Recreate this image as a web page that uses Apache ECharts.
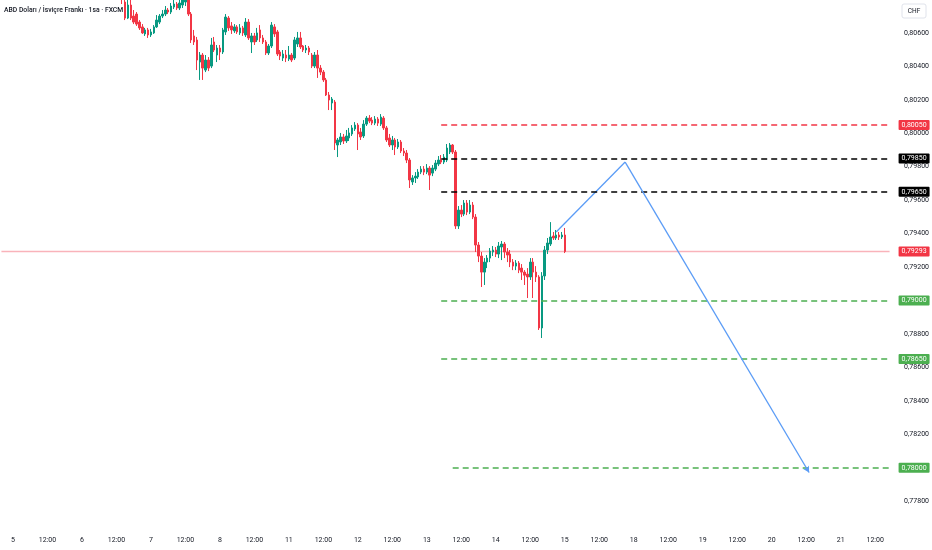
<!DOCTYPE html>
<html><head><meta charset="utf-8">
<script src="https://cdn.jsdelivr.net/npm/echarts@6/dist/echarts.min.js"></script>
<style>html,body{margin:0;padding:0;background:#fff}#c{width:932px;height:550px}</style>
</head><body><div id="c"></div>
<script>
const titleText = 'ABD Doları / İsviçre Frankı · 1sa · FXCM';
const currency = 'CHF';
const days = ['5','6','7','8','11','12','13','14','15','18','19','20','21'];
const preDay = '4';
const preHours = [20,21,22,23];
const lastSlot = '21 17:00';
const firstCandle = '6 14:00';

const open = [
0.80845,0.80785,0.80689,0.80767,0.80701,0.80713,0.80665,0.80636,0.80594,0.80618,
0.80588,0.80600,0.80636,0.80665,0.80701,0.80713,0.80737,0.80725,0.80755,0.80773,
0.80749,0.80767,0.80785,0.80797,0.80713,0.80582,0.80558,0.80426,0.80468,0.80378,
0.80438,0.80402,0.80546,0.80468,0.80510,0.80486,0.80606,0.80689,0.80642,0.80612,
0.80636,0.80600,0.80630,0.80588,0.80665,0.80546,0.80582,0.80558,0.80618,0.80570,
0.80546,0.80480,0.80522,0.80636,0.80606,0.80486,0.80450,0.80468,0.80444,0.80468,
0.80450,0.80534,0.80570,0.80522,0.80498,0.80510,0.80468,0.80402,0.80468,0.80390,
0.80366,0.80319,0.80229,0.80181,0.80187,0.79930,0.79948,0.79978,0.79954,0.79972,
0.79996,0.80026,0.80049,0.80008,0.79984,0.80055,0.80091,0.80079,0.80061,0.80085,
0.80055,0.80091,0.80032,0.79972,0.79930,0.79960,0.79918,0.79948,0.79894,0.79882,
0.79840,0.79709,0.79733,0.79739,0.79768,0.79786,0.79768,0.79792,0.79762,0.79786,
0.79816,0.79840,0.79828,0.79840,0.79888,0.79930,0.79888,0.79446,0.79541,0.79517,
0.79583,0.79529,0.79571,0.79499,0.79332,0.79266,0.79170,0.79230,0.79254,0.79290,
0.79302,0.79278,0.79320,0.79338,0.79290,0.79278,0.79230,0.79206,0.79224,0.79194,
0.79170,0.79158,0.79141,0.79230,0.79170,0.79141,0.78836,0.79147,0.79302,0.79338,
0.79386,0.79374,0.79392,0.79380,0.79392];
const close = [
0.80809,0.80689,0.80767,0.80689,0.80665,0.80653,0.80630,0.80600,0.80618,0.80588,
0.80606,0.80636,0.80677,0.80701,0.80713,0.80737,0.80725,0.80761,0.80773,0.80749,
0.80779,0.80797,0.80809,0.80713,0.80558,0.80546,0.80438,0.80468,0.80390,0.80438,
0.80390,0.80528,0.80498,0.80510,0.80486,0.80618,0.80695,0.80630,0.80618,0.80636,
0.80606,0.80630,0.80600,0.80665,0.80570,0.80582,0.80546,0.80600,0.80570,0.80546,
0.80480,0.80522,0.80647,0.80594,0.80474,0.80462,0.80474,0.80450,0.80468,0.80438,
0.80558,0.80570,0.80516,0.80498,0.80510,0.80486,0.80402,0.80468,0.80390,0.80366,
0.80319,0.80229,0.80199,0.80205,0.79942,0.79960,0.79978,0.79954,0.79984,0.80002,
0.80032,0.80049,0.79996,0.79978,0.80055,0.80091,0.80073,0.80061,0.80085,0.80061,
0.80097,0.80032,0.79960,0.79930,0.79960,0.79918,0.79948,0.79894,0.79882,0.79840,
0.79721,0.79733,0.79744,0.79768,0.79786,0.79768,0.79792,0.79750,0.79792,0.79822,
0.79840,0.79828,0.79858,0.79912,0.79930,0.79888,0.79446,0.79541,0.79517,0.79583,
0.79529,0.79571,0.79499,0.79332,0.79266,0.79170,0.79230,0.79254,0.79296,0.79302,
0.79278,0.79326,0.79338,0.79290,0.79272,0.79230,0.79206,0.79224,0.79182,0.79170,
0.79152,0.79141,0.79230,0.79170,0.79141,0.78836,0.79147,0.79302,0.79344,0.79380,
0.79374,0.79392,0.79380,0.79392,0.79293];
const low = [
0.80773,0.80677,0.80683,0.80677,0.80653,0.80642,0.80618,0.80594,0.80582,0.80570,
0.80576,0.80594,0.80630,0.80653,0.80689,0.80701,0.80713,0.80713,0.80743,0.80737,
0.80737,0.80749,0.80761,0.80701,0.80540,0.80528,0.80378,0.80319,0.80319,0.80366,
0.80372,0.80390,0.80486,0.80426,0.80438,0.80474,0.80588,0.80612,0.80594,0.80600,
0.80594,0.80588,0.80582,0.80576,0.80558,0.80480,0.80528,0.80546,0.80546,0.80534,
0.80468,0.80468,0.80510,0.80576,0.80462,0.80438,0.80432,0.80426,0.80432,0.80426,
0.80438,0.80516,0.80504,0.80486,0.80480,0.80468,0.80390,0.80390,0.80331,0.80348,
0.80307,0.80223,0.80139,0.80139,0.79900,0.79858,0.79930,0.79936,0.79942,0.79954,
0.79984,0.80014,0.79900,0.79960,0.79972,0.80044,0.80061,0.80049,0.80049,0.80044,
0.80044,0.80020,0.79948,0.79918,0.79900,0.79870,0.79906,0.79882,0.79864,0.79822,
0.79673,0.79691,0.79703,0.79727,0.79756,0.79750,0.79756,0.79661,0.79744,0.79774,
0.79804,0.79816,0.79816,0.79828,0.79876,0.79876,0.79428,0.79428,0.79499,0.79505,
0.79511,0.79517,0.79487,0.79290,0.79230,0.79081,0.79093,0.79194,0.79230,0.79266,
0.79260,0.79254,0.79242,0.79254,0.79230,0.79200,0.79182,0.79182,0.79164,0.79123,
0.79093,0.79015,0.79123,0.79015,0.79111,0.78824,0.78776,0.79123,0.79278,0.79326,
0.79362,0.79362,0.79362,0.79368,0.79284];
const high = [
0.80857,0.80809,0.80797,0.80797,0.80737,0.80725,0.80677,0.80653,0.80630,0.80630,
0.80624,0.80647,0.80707,0.80713,0.80737,0.80761,0.80749,0.80779,0.80797,0.80785,
0.80803,0.80821,0.80833,0.80815,0.80725,0.80618,0.80576,0.80486,0.80480,0.80468,
0.80456,0.80570,0.80576,0.80528,0.80528,0.80630,0.80713,0.80701,0.80665,0.80653,
0.80647,0.80653,0.80642,0.80689,0.80683,0.80600,0.80600,0.80630,0.80647,0.80588,
0.80558,0.80534,0.80665,0.80653,0.80618,0.80498,0.80498,0.80498,0.80522,0.80480,
0.80576,0.80606,0.80606,0.80528,0.80528,0.80522,0.80480,0.80486,0.80498,0.80408,
0.80378,0.80331,0.80247,0.80217,0.80199,0.79972,0.80002,0.79996,0.80020,0.80032,
0.80049,0.80067,0.80061,0.80032,0.80079,0.80103,0.80109,0.80097,0.80103,0.80097,
0.80115,0.80103,0.80044,0.79996,0.79984,0.79972,0.79966,0.79960,0.79912,0.79900,
0.79852,0.79750,0.79768,0.79786,0.79804,0.79804,0.79816,0.79804,0.79810,0.79840,
0.79864,0.79870,0.79876,0.79936,0.79942,0.79936,0.79900,0.79565,0.79571,0.79601,
0.79601,0.79601,0.79589,0.79517,0.79350,0.79290,0.79254,0.79272,0.79314,0.79326,
0.79320,0.79350,0.79356,0.79350,0.79314,0.79302,0.79248,0.79242,0.79236,0.79218,
0.79182,0.79194,0.79254,0.79254,0.79206,0.79152,0.79170,0.79326,0.79374,0.79469,
0.79410,0.79422,0.79410,0.79410,0.79434];

const priceTicks = [0.778,0.780,0.782,0.784,0.786,0.788,0.790,0.792,0.794,0.796,0.798,0.800,0.802,0.804,0.806];
const yMin = 0.77658, yMax = 0.80797;
const lastPrice = 0.79293;

const levelPrices = [0.8005, 0.7985, 0.7965, 0.79, 0.7865, 0.78];
const levelStarts = ['13 05:00','13 05:00','13 05:00','13 05:00','13 05:00','13 09:00'];
const levelColors = ['#f23645','#000000','#000000','#4caf50','#4caf50','#4caf50'];

const pathTimes = ['14 21:00','15 21:00','20 13:00'];
const pathPrices = [0.7941, 0.79828, 0.77972];

const UP = '#089981', DOWN = '#f23645', TXT = '#131722';
const PRICE_LINE = '#f9b3ba', PATH = '#5b9cf6';
const FONT = 'Roboto, "Noto Sans", sans-serif';
const pad = h => (h < 10 ? '0' : '') + h;
const fmt = v => v.toFixed(5).replace('.', ',');

const cats = [];
preHours.forEach(h => cats.push(preDay + ' ' + pad(h) + ':00'));
days.forEach(d => { for (let h = 0; h < 24; h++) cats.push(d + ' ' + pad(h) + ':00'); });
const slots = cats.slice(0, cats.indexOf(lastSlot) + 1);

const start = slots.indexOf(firstCandle);
const candles = open.map((o, i) => [start + i, o, close[i], low[i], high[i]]);

const tagLabel = (text, bg) => ({
  show: true, position: 'end', distance: 9, formatter: text,
  backgroundColor: bg, color: '#ffffff', fontSize: 7, fontFamily: FONT,
  padding: [2, 3, 1, 3], borderRadius: 1
});

const levelMarks = levelPrices.map((p, i) => [
  { coord: [levelStarts[i], p], symbol: 'none',
    lineStyle: { color: levelColors[i], type: [6, 4], width: 1.5 },
    label: tagLabel(fmt(p), levelColors[i]) },
  { coord: [lastSlot, p], symbol: 'none' }
]);
const arrowMark = [[
  { coord: [pathTimes[1], pathPrices[1]], symbol: 'none',
    lineStyle: { color: PATH, type: 'solid', width: 1.3 }, label: { show: false } },
  { coord: [pathTimes[2], pathPrices[2]], symbol: 'arrow', symbolSize: [5, 6] }
]];

const chart = echarts.init(document.getElementById('c'), null, { renderer: 'canvas' });
chart.setOption({
  animation: false,
  backgroundColor: '#ffffff',
  grid: { left: 0, right: 40, top: 0, bottom: 25 },
  xAxis: {
    type: 'category', data: slots, boundaryGap: true,
    axisLine: { show: false }, axisTick: { show: false }, splitLine: { show: false },
    axisPointer: { show: false },
    axisLabel: {
      interval: (i, v) => v.endsWith(' 00:00') || v.endsWith(' 12:00'),
      formatter: v => v.endsWith(' 00:00') ? v.split(' ')[0] : '12:00',
      color: TXT, fontSize: 7, fontFamily: FONT, margin: 12
    }
  },
  yAxis: {
    type: 'value', position: 'right', min: yMin, max: yMax, scale: true,
    axisLine: { show: false }, axisTick: { show: false }, splitLine: { show: false },
    axisLabel: {
      customValues: priceTicks, formatter: v => fmt(v),
      color: TXT, fontSize: 7, fontFamily: FONT, margin: 13
    }
  },
  graphic: [
    { type: 'text', left: 4, top: 7, z: 100,
      style: { text: titleText, fill: TXT, font: '500 6.8px ' + FONT } },
    { type: 'rect', shape: { x: 902, y: 4, width: 24, height: 14, r: 2 }, z: 100,
      style: { fill: '#ffffff', stroke: '#e0e3eb', lineWidth: 1 } },
    { type: 'text', x: 914, y: 11, z: 101,
      style: { text: currency, fill: TXT, font: '6.5px ' + FONT, align: 'center', verticalAlign: 'middle' } }
  ],
  series: [
    {
      type: 'line', name: 'price', z: 1, silent: true, symbol: 'none',
      data: [[slots[0], lastPrice], [lastSlot, lastPrice]],
      lineStyle: { color: PRICE_LINE, width: 1.4, type: 'solid' },
      itemStyle: { color: PRICE_LINE },
      endLabel: { show: true, formatter: fmt(lastPrice), distance: 9, backgroundColor: DOWN,
        color: '#ffffff', fontSize: 7, fontFamily: FONT, padding: [2, 3, 1, 3], borderRadius: 1 }
    },
    {
      type: 'candlestick', data: candles, encode: { x: 0, y: [1, 2, 3, 4] }, z: 2,
      clip: true, barWidth: 2,
      itemStyle: { color: UP, color0: DOWN, borderColor: UP, borderColor0: DOWN, borderWidth: 1 },
      markLine: { silent: true, animation: false, symbol: ['none', 'none'], data: levelMarks }
    },
    {
      type: 'line', name: 'path', z: 3, silent: true, symbol: 'none',
      data: [[pathTimes[0], pathPrices[0]], [pathTimes[1], pathPrices[1]]],
      lineStyle: { color: PATH, width: 1.3, type: 'solid' },
      itemStyle: { color: PATH },
      markLine: { silent: true, animation: false, symbol: ['none', 'arrow'], data: arrowMark }
    }
  ]
});
</script></body></html>
